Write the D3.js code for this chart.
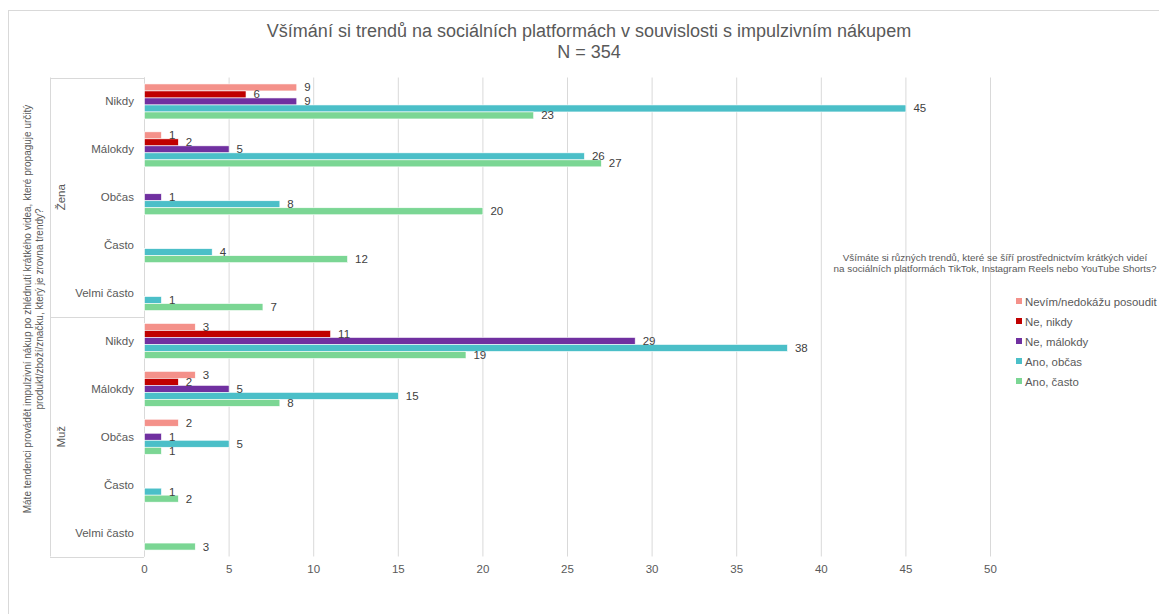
<!DOCTYPE html>
<html>
<head>
<meta charset="utf-8">
<script src="https://cdn.jsdelivr.net/npm/d3@7"></script>
<style>
  html, body { margin: 0; padding: 0; background: #fff; }
  svg { display: block; font-family: "Liberation Sans", Arial, sans-serif; }
</style>
</head>
<body>
<svg id="chart" width="1159" height="614"></svg>
<script>
// ---- data ----
const groups = ["Žena", "Muž"];
const categories = ["Nikdy", "Málokdy", "Občas", "Často", "Velmi často"];
const seriesNames = ["Nevím/nedokážu posoudit", "Ne, nikdy", "Ne, málokdy", "Ano, občas", "Ano, často"];
const seriesColors = ["#F4918A", "#C00000", "#7030A0", "#4BBFC8", "#7BD694"];
// values per series, rows ordered: Žena (Nikdy..Velmi často), Muž (Nikdy..Velmi často)
const nevim    = [9, 1, 0, 0, 0,   3, 3, 2, 0, 0];
const neNikdy  = [6, 2, 0, 0, 0,  11, 2, 0, 0, 0];
const neMalo   = [9, 5, 1, 0, 0,  29, 5, 1, 0, 0];
const anoObcas = [45, 26, 8, 4, 1, 38, 15, 5, 1, 0];
const anoCasto = [23, 27, 20, 12, 7, 19, 8, 1, 2, 3];
const xTicks = [0, 5, 10, 15, 20, 25, 30, 35, 40, 45, 50];
const title1 = "Všímání si trendů na sociálních platformách v souvislosti s impulzivním nákupem";
const title2 = "N = 354";
const yTitle1 = "Máte tendenci provádět impulzivní nákup po zhlédnutí krátkého videa, které propaguje určitý";
const yTitle2 = "produkt/zboží/značku, který je zrovna trendy?";
const legendTitle1 = "Všímáte si různých trendů, které se šíří prostřednictvím krátkých videí";
const legendTitle2 = "na sociálních platformách TikTok, Instagram Reels nebo YouTube Shorts?";

const seriesValues = [nevim, neNikdy, neMalo, anoObcas, anoCasto];

// ---- layout ----
const svg = d3.select("#chart");
const pLeft = 144, pRight = 990, pTop = 77.5, pBottom = 556.5;
const txt = "#595959";
const grid = "#D9D9D9";

// outer border
svg.append("rect").attr("x", 8.5).attr("y", 10.5).attr("width", 1170).attr("height", 620)
  .attr("fill", "none").attr("stroke", "#D9D9D9").attr("stroke-width", 1);

const rows = [];
groups.forEach((g, gi) => categories.forEach((c, ci) => rows.push({ key: g + "|" + c, group: g, cat: c, idx: gi * categories.length + ci })));

const x = d3.scaleLinear().domain([0, 50]).range([pLeft, pRight]);
const y = d3.scaleBand().domain(rows.map(r => r.key)).range([pTop, pBottom]).paddingInner(0).paddingOuter(0);
const inner = d3.scaleBand().domain(seriesNames).range([0, y.bandwidth()]).paddingInner(0).paddingOuter(0.92);

// gridlines via axis
const xAxis = svg.append("g").attr("transform", `translate(0,${pBottom})`)
  .call(d3.axisBottom(x).tickValues(xTicks).tickSize(-(pBottom - pTop)).tickPadding(8).tickFormat(d3.format("d")));
xAxis.select(".domain").remove();
xAxis.selectAll(".tick line").attr("stroke", grid).attr("stroke-width", 1);
xAxis.selectAll(".tick text").attr("fill", txt).attr("font-size", 11.5).attr("font-family", "Liberation Sans, Arial, sans-serif");

// category axis line
svg.append("line").attr("x1", pLeft + 0.5).attr("x2", pLeft + 0.5).attr("y1", pTop).attr("y2", pBottom)
  .attr("stroke", grid);
// multi-level category box lines
const boxLeft = 50;
[pTop, pTop + y.bandwidth() * 5, pBottom].forEach(yy => {
  svg.append("line").attr("x1", boxLeft).attr("x2", pLeft).attr("y1", Math.round(yy) + 0.5).attr("y2", Math.round(yy) + 0.5).attr("stroke", grid);
});
svg.append("line").attr("x1", boxLeft + 0.5).attr("x2", boxLeft + 0.5).attr("y1", pTop).attr("y2", pBottom).attr("stroke", grid);

// category labels
svg.append("g").selectAll("text").data(rows).join("text")
  .attr("x", 134).attr("y", d => y(d.key) + y.bandwidth() / 2 + 4)
  .attr("text-anchor", "end").attr("font-size", 11.5).attr("fill", txt)
  .text(d => d.cat);

// group labels
groups.forEach((g, gi) => {
  const cy = pTop + y.bandwidth() * 5 * gi + y.bandwidth() * 2.5;
  svg.append("text").attr("transform", `translate(65,${cy}) rotate(-90)`)
    .attr("text-anchor", "middle").attr("font-size", 11.5).attr("fill", txt).text(g);
});

// y title
const ycy = 309;
svg.append("text").attr("transform", `translate(31,${ycy}) rotate(-90)`)
  .attr("text-anchor", "middle").attr("font-size", 10).attr("fill", txt).text(yTitle1);
svg.append("text").attr("transform", `translate(43,${ycy}) rotate(-90)`)
  .attr("text-anchor", "middle").attr("font-size", 10).attr("fill", txt).text(yTitle2);

// bars
const barData = [];
seriesNames.forEach((s, si) => rows.forEach((r, ri) => {
  const v = seriesValues[si][ri];
  if (v > 0) barData.push({ s, si, key: r.key, v });
}));
const bars = svg.append("g");
bars.selectAll("rect").data(barData).join("rect")
  .attr("x", x(0) + 0.5)
  .attr("y", d => y(d.key) + inner(d.s))
  .attr("width", d => x(d.v) - x(0))
  .attr("height", inner.bandwidth())
  .attr("fill", d => seriesColors[d.si])
  .attr("stroke", "#fff").attr("stroke-width", 0.6);

// value labels
svg.append("g").selectAll("text").data(barData).join("text")
  .attr("x", d => x(d.v) + 8)
  .attr("y", d => y(d.key) + inner(d.s) + inner.bandwidth() / 2 + 4)
  .attr("font-size", 11.5).attr("fill", "#404040")
  .text(d => d.v);

// title
svg.append("text").attr("x", 589).attr("y", 37).attr("text-anchor", "middle")
  .attr("font-size", 18).attr("fill", txt).text(title1);
svg.append("text").attr("x", 589).attr("y", 58).attr("text-anchor", "middle")
  .attr("font-size", 18).attr("fill", txt).text(title2);

// legend
svg.append("text").attr("x", 995).attr("y", 261).attr("text-anchor", "middle")
  .attr("font-size", 9.9).attr("fill", txt).text(legendTitle1);
svg.append("text").attr("x", 995).attr("y", 272).attr("text-anchor", "middle")
  .attr("font-size", 9.9).attr("fill", txt).text(legendTitle2);
const lg = svg.append("g").selectAll("g").data(seriesNames).join("g")
  .attr("transform", (d, i) => `translate(1016,${302 + i * 20})`);
lg.append("rect").attr("x", 0).attr("y", -4).attr("width", 6).attr("height", 6)
  .attr("fill", (d, i) => seriesColors[i]);
lg.append("text").attr("x", 9).attr("y", 3.5).attr("font-size", 11.4).attr("fill", txt).text(d => d);
</script>
</body>
</html>
